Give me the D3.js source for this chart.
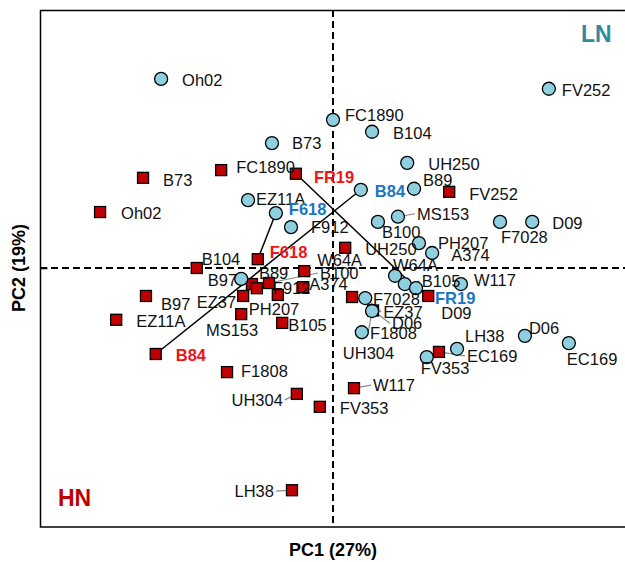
<!DOCTYPE html>
<html>
<head>
<meta charset="utf-8">
<script src="https://cdn.jsdelivr.net/npm/d3@7"></script>
<style>
  body { margin: 0; background: #fff; }
  svg { display: block; font-family: "Liberation Sans", Arial, sans-serif; }
</style>
</head>
<body>
<div class="container"></div>
<script>
const WIDTH = 625;
const HEIGHT = 562;

// genotypes, same order in every array below
const genotypes = ['Oh02', 'FV252', 'FC1890', 'B104', 'B73', 'UH250', 'B89', 'B84', 'EZ11A', 'F618',
  'F912', 'MS153', 'B100', 'PH207', 'A374', 'F7028', 'D09', 'B97', 'W64A', 'B105',
  'FR19', 'W117', 'EZ37', 'F1808', 'UH304', 'D06', 'EC169', 'LH38', 'FV353'];

// LN scores (circles)
const lnPC1 = [-3.52, 4.42, 0.00, 0.80, -1.25, 1.52, 1.66, 0.57, -1.74, -1.17,
  -0.86, 1.33, 0.92, 1.76, 2.03, 3.42, 4.08, -1.88, 1.27, 1.47,
  1.70, 2.62, 0.66, 0.80, 0.59, 3.93, 4.83, 2.54, 1.92];
const lnPC2 = [3.65, 3.46, 2.86, 2.63, 2.41, 2.03, 1.53, 1.51, 1.31, 1.06,
  0.79, 0.99, 0.89, 0.48, 0.29, 0.89, 0.89, -0.21, -0.15, -0.31,
  -0.39, -0.31, -0.58, -0.83, -1.24, -1.31, -1.45, -1.56, -1.72];

// HN scores (squares)
const hnPC1 = [-4.77, 2.38, -2.29, -2.79, -3.89, 0.25, -1.66, -3.63, -4.44, -1.54,
  -1.56, -1.88, -1.31, -1.13, -0.61, 0.39, 1.95, -3.83, -0.59, -1.04,
  -0.76, 0.43, -1.84, -2.17, -0.74, 0.82, 2.17, -0.84, -0.27];
const hnPC2 = [1.08, 1.47, 1.89, 0.00, 1.74, 0.39, -0.31, -1.66, -1.00, 0.17,
  -0.39, -0.89, -0.29, -0.52, -0.37, -0.56, -0.54, -0.54, -0.06, -1.06,
  1.82, -2.32, -0.54, -2.01, -2.43, -0.82, -1.62, -4.29, -2.68];

// genotypes joined LN <-> HN
const highlighted = ['B84', 'F618', 'FR19'];

// label placement: [dx, dy, anchor, leader line]
const lnNudge = [[21, 1], [13, 1], [12, -5], [21, 1], [20, 0], [21, 1], [9, -9], [14, 1], [8, -1], [13, -4],
  [20, 0], [19, -3, 's', 1], [4, 10], [19, 0], [19, 2], [1, 15], [20, 1], [-4, 1, 'e'], [-2, -11], [17, -3, 's', 1],
  [19, 10, 's', 1], [13, -4], [18, 14, 's', 1], [-2, 22, 's', 1], [-19, 21], [4, -8], [-2, 16], [8, -13], [-6, 11]];
const hnNudge = [[21, 1], [20, 2], [15, -3], [5, -9], [20, 2], [20, 1], [7, -11], [20, 1], [20, 1], [12, -7],
  [16, 0], [17, 16, 'e'], [51, -10, 's', 1], [-29, 14], [6, -3], [21, 2], [13, 17], [15, 8], [13, -11], [6, 2],
  [18, 3], [19, -3, 's', 1], [-7, 6, 'e'], [14, -1], [-14, 6, 'e', 1], [19, 13, 's', 1], [28, 4, 's', 1], [-18, 1, 'e', 1], [20, 1]];

const x = d3.scaleLinear().domain([-6, 6]).range([40, 626]);
const y = d3.scaleLinear().domain([-5, 5]).range([527, 9]);

const svg = d3.select('.container').append('svg')
  .attr('width', WIDTH)
  .attr('height', HEIGHT);

svg.append('rect')
  .attr('width', WIDTH).attr('height', HEIGHT)
  .attr('fill', '#fff');

function rows(pc1, pc2, nudge, type) {
  return genotypes.map(function (g, i) {
    return {
      name: g, type: type, pc1: pc1[i], pc2: pc2[i],
      dx: nudge[i][0], dy: nudge[i][1],
      anchor: nudge[i][2] === 'e' ? 'end' : 'start',
      leader: !!nudge[i][3],
      hi: highlighted.indexOf(g) >= 0
    };
  });
}
var ln = rows(lnPC1, lnPC2, lnNudge, 'LN');
var hn = rows(hnPC1, hnPC2, hnNudge, 'HN');
var all = hn.concat(ln);

// frame
svg.append('rect')
  .attr('x', 40.5).attr('y', 10.5)
  .attr('width', 620).attr('height', 516.5)
  .attr('fill', 'none')
  .attr('stroke', '#000')
  .attr('stroke-width', 1.5);

svg.append('g')
  .attr('transform', 'translate(40.5,0)')
  .call(d3.axisLeft(y).tickValues([0]).tickSize(-7).tickFormat(''))
  .call(function (g) { g.select('.domain').remove(); })
  .selectAll('line').attr('stroke-width', 1.5);

// zero lines
svg.append('line')
  .attr('x1', x(0)).attr('x2', x(0))
  .attr('y1', 10).attr('y2', 527)
  .attr('stroke', '#000').attr('stroke-width', 2)
  .attr('stroke-dasharray', '7,4');
svg.append('line')
  .attr('x1', 40).attr('x2', 625)
  .attr('y1', y(0)).attr('y2', y(0))
  .attr('stroke', '#000').attr('stroke-width', 2)
  .attr('stroke-dasharray', '7,4');

// links between LN and HN of highlighted genotypes
highlighted.forEach(function (g) {
  var i = genotypes.indexOf(g);
  svg.append('line')
    .attr('x1', x(hn[i].pc1)).attr('y1', y(hn[i].pc2))
    .attr('x2', x(ln[i].pc1)).attr('y2', y(ln[i].pc2))
    .attr('stroke', '#000').attr('stroke-width', 1.5);
});

// leader segments
var FS = 16.5;
svg.selectAll('.leader')
  .data(all.filter(function (d) { return d.leader; }))
  .enter().append('line')
  .attr('class', 'leader')
  .attr('x1', function (d) { return x(d.pc1); })
  .attr('y1', function (d) { return y(d.pc2); })
  .attr('x2', function (d) { return x(d.pc1) + d.dx + (d.anchor === 'end' ? 2 : -2); })
  .attr('y2', function (d) { return y(d.pc2) + d.dy; })
  .attr('stroke', '#8a8a8a')
  .attr('stroke-width', 1.2);

// HN squares
var S = 11;
svg.selectAll('.hn')
  .data(hn)
  .enter().append('rect')
  .attr('class', 'hn')
  .attr('x', function (d) { return x(d.pc1) - S / 2; })
  .attr('y', function (d) { return y(d.pc2) - S / 2; })
  .attr('width', S).attr('height', S)
  .attr('fill', '#c00000')
  .attr('stroke', '#000')
  .attr('stroke-width', 1.3);

// LN circles
svg.selectAll('.ln')
  .data(ln)
  .enter().append('circle')
  .attr('class', 'ln')
  .attr('cx', function (d) { return x(d.pc1); })
  .attr('cy', function (d) { return y(d.pc2); })
  .attr('r', 6.5)
  .attr('fill', '#8ecfe0')
  .attr('stroke', '#000')
  .attr('stroke-width', 1.3);

// labels
svg.selectAll('.lab')
  .data(all)
  .enter().append('text')
  .attr('class', 'lab')
  .attr('x', function (d) { return x(d.pc1) + d.dx; })
  .attr('y', function (d) { return y(d.pc2) + d.dy; })
  .attr('dy', '0.36em')
  .attr('text-anchor', function (d) { return d.anchor; })
  .attr('font-size', FS)
  .attr('font-weight', function (d) { return d.hi ? 'bold' : 'normal'; })
  .attr('fill', function (d) {
    if (!d.hi) return '#111';
    return d.type === 'HN' ? '#f01414' : '#1b74c4';
  })
  .text(function (d) { return d.name; });

// corner tags
svg.append('text')
  .attr('x', 581).attr('y', 42)
  .attr('font-size', 23).attr('font-weight', 'bold')
  .attr('fill', '#2f8c9e')
  .text('LN');
svg.append('text')
  .attr('x', 58).attr('y', 506)
  .attr('font-size', 23).attr('font-weight', 'bold')
  .attr('fill', '#c00000')
  .text('HN');

// axis titles
svg.append('text')
  .attr('x', x(0)).attr('y', 556)
  .attr('text-anchor', 'middle')
  .attr('font-size', 18).attr('font-weight', 'bold')
  .text('PC1 (27%)');
svg.append('text')
  .attr('transform', 'translate(25,' + y(0) + ') rotate(-90)')
  .attr('text-anchor', 'middle')
  .attr('font-size', 18).attr('font-weight', 'bold')
  .text('PC2 (19%)');
</script>
</body>
</html>
